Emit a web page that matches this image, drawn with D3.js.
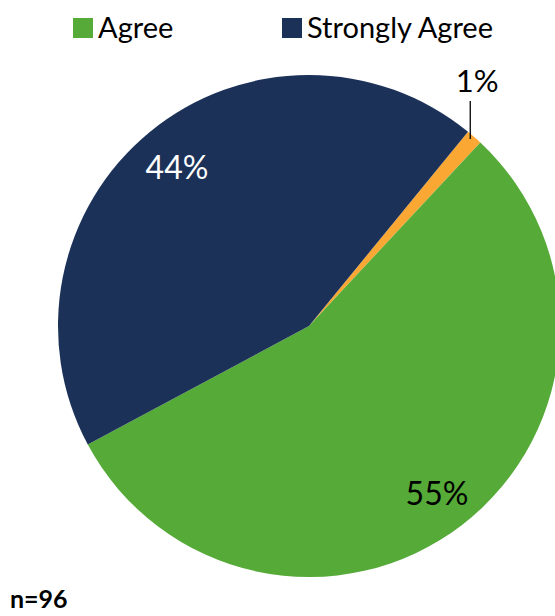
<!DOCTYPE html>
<html><head><meta charset="utf-8">
<script src="https://cdn.jsdelivr.net/npm/d3@7"></script>
<style>body{margin:0;background:#fff}svg{display:block}text{font-family:Lato,"Open Sans",sans-serif}</style>
</head><body>
<svg id="c" width="555" height="616"></svg>
<script>
const categories = ["Neutral", "Agree", "Strongly Agree"];
const counts = [1, 53, 42];
const labels = ["1%", "55%", "44%"];
const colors = ["#FAA833", "#55AA38", "#1B3158"];
const legendItems = ["Agree", "Strongly Agree"];
const legendColors = ["#55AA38", "#1B3158"];
const footnote = "n=96";

const svg = d3.select("#c");
const cx = 309, cy = 326, r = 251;
const startDeg = 39.3;
const pie = d3.pie().sort(null).value(d => d)
  .startAngle(startDeg * Math.PI / 180)
  .endAngle((startDeg + 360) * Math.PI / 180);
const arcs = pie(counts);
const arc = d3.arc().innerRadius(0).outerRadius(r);
const g = svg.append("g").attr("transform", `translate(${cx},${cy})`);
g.selectAll("path").data(arcs).join("path")
  .attr("d", arc).attr("fill", (d, i) => colors[i]);

// labels
const labelArc = d3.arc().innerRadius(r * 0.70).outerRadius(r * 0.70);
arcs.forEach((a, i) => {
  if (i === 0) {
    const ang = (a.startAngle + a.endAngle) / 2;
    const px = Math.sin(ang) * r, py = -Math.cos(ang) * r;
    g.append("line").attr("x1", px - 4).attr("y1", py + 2).attr("x2", px - 4).attr("y2", py - 36)
      .attr("stroke", "#000").attr("stroke-width", 1.3);
    g.append("text").attr("x", px + 3).attr("y", py - 45).attr("text-anchor", "middle")
      .attr("font-size", 31).attr("fill", "#000").text(labels[i]);
  } else {
    const c = labelArc.centroid(a);
    let dx = 0, dy = 0;
    if (i === 1) { dx = 128 - c[0]; dy = 179 - c[1]; }
    if (i === 2) { dx = -132 - c[0]; dy = -147 - c[1]; }
    g.append("text").attr("x", c[0] + dx).attr("y", c[1] + dy).attr("text-anchor", "middle")
      .attr("font-size", 32).attr("fill", i === 2 ? "#fff" : "#000").text(labels[i]);
  }
});

// legend
const lx = [73, 282];
legendItems.forEach((t, i) => {
  svg.append("rect").attr("x", lx[i]).attr("y", 18).attr("width", 20).attr("height", 20).attr("fill", legendColors[i]);
  svg.append("text").attr("x", lx[i] + 25).attr("y", 38).attr("font-size", 29).attr("fill", "#000").text(t);
});

svg.append("text").attr("x", 10).attr("y", 608).attr("font-size", 25).attr("font-weight", "bold").attr("fill", "#000").text(footnote);
</script>
</body></html>
